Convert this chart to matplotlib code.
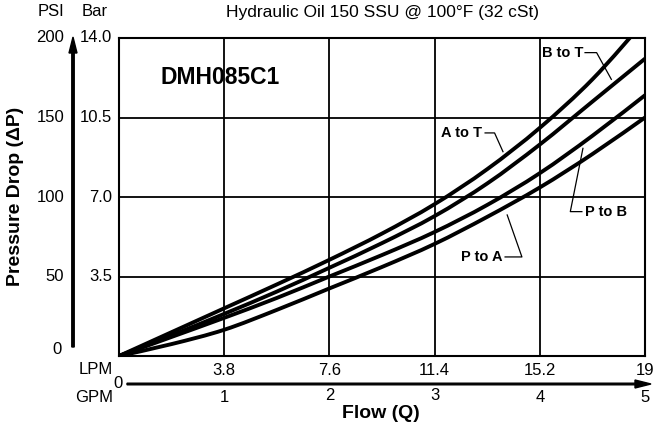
import matplotlib
matplotlib.use("Agg")
import matplotlib.pyplot as plt
from matplotlib.patches import FancyArrow, PathPatch
from matplotlib.path import Path

plt.rcParams['font.family'] = ['Liberation Sans', 'DejaVu Sans']

# ---- data ----
gpm = [0, 0.5, 1, 1.5, 2, 2.5, 3, 3.5, 4, 4.5, 5]
a_to_t = [0, 15, 30, 45, 60.5, 77, 95.5, 117.5, 143.5, 174, 211]
b_to_t = [0, 13, 26.5, 40.5, 55.5, 71, 88, 108.5, 133, 160, 187]
p_to_b = [0, 12, 24, 36.5, 50, 63.5, 78, 95, 115, 138.5, 164]
p_to_a = [0, 7.5, 16.5, 29, 42.5, 56, 70.5, 87.5, 106, 127, 150]

psi_ticks = [0, 50, 100, 150, 200]
bar_labels = ["", "3.5", "7.0", "10.5", "14.0"]
gpm_ticks = [1, 2, 3, 4, 5]
lpm_labels = ["3.8", "7.6", "11.4", "15.2", "19"]

W, H = 656, 432
fig = plt.figure(figsize=(W / 100, H / 100), dpi=100)
ax = fig.add_axes([119 / W, 1 - 356 / H, 526 / W, 318 / H])
ax.set_xlim(0, 5)
ax.set_ylim(0, 200)
ax.set_xticks([1, 2, 3, 4])
ax.set_yticks([50, 100, 150])
ax.tick_params(length=0, labelbottom=False, labelleft=False)
ax.grid(True, color='black', lw=1.3)
for s in ax.spines.values():
    s.set_linewidth(1.5)
    s.set_color('black')


def smooth_path(xs, ys):
    """Catmull-Rom spline through the points, as cubic Bezier segments."""
    verts = [(xs[0], ys[0])]
    codes = [Path.MOVETO]
    n = len(xs)
    for i in range(n - 1):
        x0, y0 = (xs[i - 1], ys[i - 1]) if i > 0 else (xs[i], ys[i])
        x1, y1 = xs[i], ys[i]
        x2, y2 = xs[i + 1], ys[i + 1]
        x3, y3 = (xs[i + 2], ys[i + 2]) if i + 2 < n else (x2, y2)
        c1 = (x1 + (x2 - x0) / 6, y1 + (y2 - y0) / 6)
        c2 = (x2 - (x3 - x1) / 6, y2 - (y3 - y1) / 6)
        verts += [c1, c2, (x2, y2)]
        codes += [Path.CURVE4] * 3
    return Path(verts, codes)


for ser in (a_to_t, b_to_t, p_to_b, p_to_a):
    ax.add_patch(PathPatch(smooth_path(gpm, ser), fill=False, edgecolor='black',
                           lw=2.8, zorder=3))


def px(x, y):
    return x / W, 1 - y / H


def ftext(x, y, s, **kw):
    fig.text(*px(x, y), s, **kw)


FS = 12
# header
ftext(51, 11, "PSI", ha='center', va='center', fontsize=FS)
ftext(95, 11, "Bar", ha='center', va='center', fontsize=FS)
ftext(382, 12, "Hydraulic Oil 150 SSU @ 100°F (32 cSt)", ha='center', va='center', fontsize=12.5)

# y tick labels (PSI left, Bar right)
trans_y = ax.get_yaxis_transform()
for v, b in zip(psi_ticks, bar_labels):
    if v == 0:
        ax.text(-0.11, v + 4, "0", transform=trans_y, ha='right', va='center', fontsize=FS)
    else:
        ax.text(-0.104, v, str(v), transform=trans_y, ha='right', va='center', fontsize=FS)
    if b:
        ax.text(-0.013, v, b, transform=trans_y, ha='right', va='center', fontsize=FS)

# vertical axis arrow
fig.add_artist(FancyArrow(*px(73, 347), 0, (347 - 37) / H, width=1.6 / H,
                          head_width=8 / W, head_length=16 / H, length_includes_head=True,
                          color='black', transform=fig.transFigure))
# horizontal axis arrow
fig.add_artist(FancyArrow(*px(127, 384), (651 - 127) / W, 0, width=1.6 / H,
                          head_width=8 / H, head_length=16 / W, length_includes_head=True,
                          color='black', transform=fig.transFigure))

# x labels
trans_x = ax.get_xaxis_transform()
ftext(113, 370, "LPM", ha='right', va='center', fontsize=FS)
ftext(113, 398, "GPM", ha='right', va='center', fontsize=FS)
ftext(118, 383, "0", ha='center', va='center', fontsize=FS)
for g, l in zip(gpm_ticks, lpm_labels):
    ax.text(g, -0.045, l, transform=trans_x, ha='center', va='center', fontsize=FS)
    dy = -0.125 if g in (2, 3) else -0.13
    ax.text(g, dy, str(g), transform=trans_x, ha='center', va='center', fontsize=FS)

ftext(381, 414, "Flow (Q)", ha='center', va='center', fontsize=14, fontweight='bold')
ftext(16, 196, "Pressure Drop (ΔP)", ha='center', va='center', fontsize=14,
      fontweight='bold', rotation=90)

# chart name
ax.text(0.39, 175, "DMH085C1", ha='left', va='center', fontsize=16.5, fontweight='bold')

# curve labels with leader lines
LFS = 10.5
ax.text(4.41, 190.8, "B to T", ha='right', va='center', fontsize=LFS, fontweight='bold')
ax.plot([4.43, 4.54, 4.68], [190.8, 190.8, 174], color='black', lw=0.9, clip_on=False)
ax.text(3.45, 140.3, "A to T", ha='right', va='center', fontsize=LFS, fontweight='bold')
ax.plot([3.48, 3.57, 3.65], [140.3, 140.3, 128.5], color='black', lw=0.9)
ax.text(4.43, 90.8, "P to B", ha='left', va='center', fontsize=LFS, fontweight='bold')
ax.plot([4.40, 4.29, 4.41], [90.8, 90.8, 130.6], color='black', lw=0.9)
ax.text(3.65, 62.3, "P to A", ha='right', va='center', fontsize=LFS, fontweight='bold')
ax.plot([3.67, 3.83, 3.69], [62.3, 62.3, 88.7], color='black', lw=0.9)

fig.savefig("out.png", dpi=100)
